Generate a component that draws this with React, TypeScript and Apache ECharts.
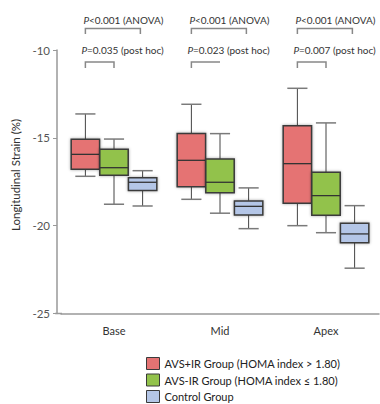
import React, { useEffect, useRef } from "react";
import * as echarts from "echarts";

const categories = ["Base", "Mid", "Apex"];
const seriesNames = [
  "AVS+IR Group (HOMA index > 1.80)",
  "AVS-IR Group (HOMA index ≤ 1.80)",
  "Control Group",
];
// [low whisker, Q1, median, Q3, high whisker] per segment
const avsIR = [
  [-17.19, -16.79, -15.94, -15.08, -13.64],
  [-18.5, -17.78, -16.28, -14.76, -13.09],
  [-20.0, -18.73, -16.47, -14.31, -12.18],
];
const avsNoIR = [
  [-18.78, -17.13, -16.7, -15.65, -15.07],
  [-19.29, -18.12, -17.53, -16.2, -14.76],
  [-20.4, -19.41, -18.29, -16.96, -14.15],
];
const control = [
  [-18.88, -18.0, -17.53, -17.27, -16.87],
  [-20.17, -19.39, -18.9, -18.59, -17.85],
  [-22.42, -20.97, -20.47, -19.86, -18.86],
];
const anovaLabels = ["<0.001 (ANOVA)", "<0.001 (ANOVA)", "<0.001 (ANOVA)"];
const postHocLabels = ["=0.035 (post hoc)", "=0.023 (post hoc)", "=0.007 (post hoc)"];
const yTicks = [-25, -20, -15, -10];
const yTitle = "Longitudinal Strain (%)";

const FONT = "Lato, 'Liberation Sans', Arial, sans-serif";
const fills = ["#E57373", "#92C24B", "#B4C6E7"];
const offsets = [-0.27, 0, 0.27];

function makeRender(off: number, fill: string) {
  return (params: any, api: any) => {
    const cat = api.value(0);
    const band = api.size([1, 0])[0];
    const p = (i: number) => api.coord([cat, api.value(i)]);
    const cx = p(1)[0] + off * band;
    const yLow = p(1)[1];
    const yQ1 = p(2)[1];
    const yMed = p(3)[1];
    const yQ3 = p(4)[1];
    const yHigh = p(5)[1];
    const w = band * 0.268;
    const cap = band * 0.19;
    const wStyle = { stroke: "#444", lineWidth: 1 };
    const capStyle = { stroke: "#7a7a7a", lineWidth: 1.5 };
    return {
      type: "group",
      children: [
        { type: "line", shape: { x1: cx, y1: yHigh, x2: cx, y2: yQ3 }, style: wStyle },
        { type: "line", shape: { x1: cx, y1: yQ1, x2: cx, y2: yLow }, style: wStyle },
        { type: "line", shape: { x1: cx - cap / 2, y1: yHigh, x2: cx + cap / 2, y2: yHigh }, style: capStyle },
        { type: "line", shape: { x1: cx - cap / 2, y1: yLow, x2: cx + cap / 2, y2: yLow }, style: capStyle },
        {
          type: "rect",
          shape: { x: cx - w / 2, y: yQ3, width: w, height: yQ1 - yQ3 },
          style: {
            fill,
            stroke: "#3a3a3a",
            lineWidth: 1.5,
            shadowBlur: 3,
            shadowColor: "rgba(0,0,0,0.35)",
          },
        },
        { type: "line", shape: { x1: cx - w / 2, y1: yMed, x2: cx + w / 2, y2: yMed }, style: { stroke: "#333", lineWidth: 1.3 } },
      ],
    };
  };
}

export default function App() {
  const ref = useRef<HTMLDivElement>(null);
  useEffect(() => {
    if (!ref.current) return;
    const chart = echarts.init(ref.current, null, { renderer: "svg" });
    const groups = [avsIR, avsNoIR, control];
    const series = groups.map((g, si) => ({
      name: seriesNames[si],
      type: "custom",
      itemStyle: { color: fills[si] },
      renderItem: makeRender(offsets[si], fills[si]),
      encode: { x: 0, y: [1, 2, 3, 4, 5] },
      data: g.map((v, ci) => [ci, ...v]),
    }));
    chart.setOption({
      animation: false,
      grid: { left: 61, right: 1, top: 50, bottom: 90.5 },
      legend: {
        orient: "vertical",
        left: 146,
        top: 357,
        height: 80,
        padding: 0,
        itemWidth: 13,
        itemHeight: 12,
        itemGap: 3.5,
        textStyle: { fontSize: 11, color: "#222", fontFamily: FONT },
        data: seriesNames.map((n, i) => ({
          name: n,
          icon: "rect",
          itemStyle: { color: fills[i], borderColor: "#3a3a3a", borderWidth: 1 },
        })),
      },
      xAxis: {
        type: "category",
        data: categories,
        boundaryGap: true,
        axisLine: { lineStyle: { color: "#999", width: 1.5 } },
        axisTick: { alignWithLabel: true, length: 3, lineStyle: { color: "#999" } },
        axisLabel: { fontSize: 11, color: "#333", margin: 11, fontFamily: FONT },
      },
      yAxis: {
        type: "value",
        min: yTicks[0],
        max: yTicks[yTicks.length - 1],
        interval: 5,
        offset: 4,
        splitLine: { show: false },
        axisLine: { show: true, lineStyle: { color: "#999", width: 1.5 } },
        axisTick: { show: true, length: 4, lineStyle: { color: "#999" } },
        axisLabel: { fontSize: 11.5, color: "#555", margin: 7, fontFamily: FONT },
      },
      series,
    });

    const band = 318 / 3;
    const graphics: any[] = [
      { type: "line", shape: { x1: 55, y1: 313.5, x2: 62, y2: 313.5 }, style: { stroke: "#999", lineWidth: 1.5 } },
      {
        type: "text",
        x: 15,
        y: 175,
        rotation: Math.PI / 2,
        style: {
          text: yTitle,
          align: "center",
          verticalAlign: "middle",
          fontSize: 11.5,
          fontFamily: FONT,
          fill: "#333",
        },
      },
    ];
    const bStyle = { stroke: "#888", lineWidth: 1.5, fill: null };
    const rich = {
      i: { fontStyle: "italic", fontSize: 10, fontFamily: FONT, fill: "#333" },
      n: { fontSize: 10, fontFamily: FONT, fill: "#333" },
    };
    categories.forEach((c, i) => {
      const gx = chart.convertToPixel({ xAxisIndex: 0 }, c) as number;
      const rc = gx + offsets[0] * band;
      const gc = gx + offsets[1] * band;
      graphics.push({
        type: "polyline",
        shape: { points: [[rc, 34], [rc, 28.5], [rc + 55, 28.5], [rc + 55, 34]] },
        style: bStyle,
      });
      const ph = i === 1 ? [[rc, 68], [rc, 62], [gc, 62]] : [[rc, 68], [rc, 62], [gc, 62], [gc, 68]];
      graphics.push({ type: "polyline", shape: { points: ph }, style: bStyle });
      graphics.push({
        type: "text",
        x: rc - 2,
        y: 20,
        style: { text: "{i|P}{n|" + anovaLabels[i] + "}", align: "left", verticalAlign: "middle", rich },
      });
      graphics.push({
        type: "text",
        x: rc - 4,
        y: 50,
        style: { text: "{i|P}{n|" + postHocLabels[i] + "}", align: "left", verticalAlign: "middle", rich },
      });
    });
    chart.setOption({ graphic: graphics });
    return () => chart.dispose();
  }, []);
  return <div ref={ref} style={{ width: 380, height: 404, position: "absolute", left: 0, top: 0 }} />;
}
